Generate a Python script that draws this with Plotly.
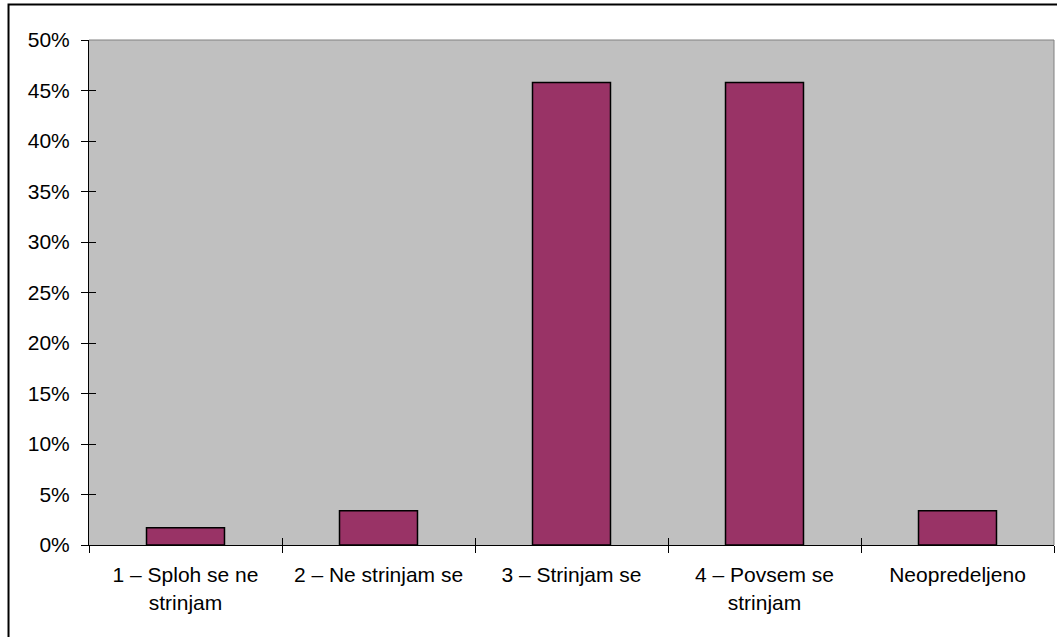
import plotly.graph_objects as go

# Survey answers and share of respondents (percent)
categories = [
    "1 – Sploh se ne<br>strinjam",
    "2 – Ne strinjam se",
    "3 – Strinjam se",
    "4 – Povsem se<br>strinjam",
    "Neopredeljeno",
]
shares = [1.7, 3.4, 45.8, 45.8, 3.4]
y_ticks = [0, 5, 10, 15, 20, 25, 30, 35, 40, 45, 50]
y_tick_labels = ["0%", "5%", "10%", "15%", "20%", "25%", "30%", "35%", "40%", "45%", "50%"]

FONT = dict(family="Liberation Sans, Arial, sans-serif", size=21, color="black")

fig = go.Figure()
fig.add_trace(go.Bar(
    x=categories, y=shares,
    marker=dict(color="#993366", line=dict(color="black", width=1.5)),
    hoverinfo="skip",
))
# invisible companion trace so the secondary (inner-tick) axes are drawn
fig.add_trace(go.Scatter(
    x=categories, y=shares, xaxis="x2", yaxis="y2",
    mode="markers", marker=dict(opacity=0), hoverinfo="skip", showlegend=False,
))

axis_common = dict(showgrid=False, zeroline=False, tickcolor="black", tickwidth=1, ticklen=7)

fig.update_layout(
    width=1057, height=637,
    margin=dict(l=89, r=3, t=40, b=92),
    paper_bgcolor="white",
    plot_bgcolor="#C0C0C0",
    showlegend=False,
    bargap=0.596,
    font=FONT,
    xaxis=dict(
        **axis_common,
        type="category", categoryorder="array", categoryarray=categories,
        range=[-0.5, 4.5],
        ticks="outside", tickson="boundaries",
        showline=True, linecolor="black", linewidth=1,
        tickfont=FONT, ticklabelstandoff=11,
    ),
    yaxis=dict(
        **axis_common,
        range=[0, 50], tickmode="array", tickvals=y_ticks, ticktext=y_tick_labels,
        ticks="outside",
        showline=True, linecolor="black", linewidth=1,
        tickfont=FONT, ticklabelstandoff=7,
    ),
    xaxis2=dict(
        **axis_common,
        type="category", categoryorder="array", categoryarray=categories,
        range=[-0.5, 4.5], overlaying="x", anchor="y2", side="bottom",
        ticks="inside", tickson="boundaries", showticklabels=False, showline=False,
    ),
    yaxis2=dict(
        **axis_common,
        range=[0, 50], tickvals=y_ticks, overlaying="y", anchor="x2", side="left",
        ticks="inside", showticklabels=False, showline=False,
    ),
    shapes=[
        # grey frame on the top and right of the plotting area
        dict(type="path", xref="paper", yref="paper",
             path="M 0 1 L 1 1 L 1 0", line=dict(color="#808080", width=1), layer="below"),
        # outer chart border
        dict(type="rect", xref="paper", yref="paper",
             x0=-0.0834, y0=-0.19, x1=1.01, y1=1.0703,
             line=dict(color="black", width=2), fillcolor="rgba(0,0,0,0)"),
    ],
)

fig.write_html("out.html")
